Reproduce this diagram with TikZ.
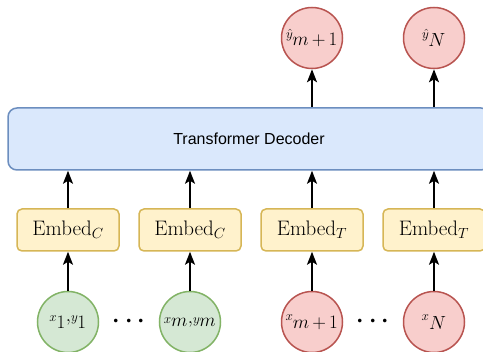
\RequirePackage{fix-cm}
\documentclass[tikz,border=0pt]{standalone}
\usepackage{fontspec}
\usetikzlibrary{arrows.meta}
\newfontfamily\arialfont{Liberation Sans}
\definecolor{bluefill}{HTML}{DAE8FC}
\definecolor{bluestroke}{HTML}{6C8EBF}
\definecolor{yellowfill}{HTML}{FFF2CC}
\definecolor{yellowstroke}{HTML}{D6B656}
\definecolor{greenfill}{HTML}{D5E8D4}
\definecolor{greenstroke}{HTML}{82B366}
\definecolor{redfill}{HTML}{F8CECC}
\definecolor{redstroke}{HTML}{B85450}
\tikzset{
  circ/.style={circle, line width=1.5pt, minimum size=61pt, inner sep=0pt, font=\fontsize{19}{21}\selectfont},
  greenc/.style={circ, draw=greenstroke, fill=greenfill},
  redc/.style={circ, draw=redstroke, fill=redfill},
  emb/.style={rectangle, rounded corners=5pt, draw=yellowstroke, fill=yellowfill, line width=1.5pt, minimum width=102pt, minimum height=42pt, inner sep=0pt, font=\fontsize{21}{23}\selectfont},
  decbox/.style={rectangle, rounded corners=9pt, draw=bluestroke, fill=bluefill, line width=1.5pt, minimum width=482pt, minimum height=62pt, inner sep=0pt, font=\arialfont\fontsize{16}{18}\selectfont},
  arr/.style={-{Stealth[length=13pt,width=10pt,inset=3pt]}, line width=1.8pt, black},
  dotsnode/.style={inner sep=0pt, font=\fontsize{34}{36}\selectfont}
}
\newcommand{\dotrow}{$\cdot$\hspace{3pt}$\cdot$\hspace{3pt}$\cdot$}
\begin{document}
\begin{tikzpicture}[x=1pt,y=-1pt]
\useasboundingbox (0,0) rectangle (483,352);
\clip (0,0) rectangle (483,352);
\node[decbox] (dec) at (249,139) {Transformer Decoder};
\node[emb] (e1) at (68,230) {Embed$_C$};
\node[emb] (e2) at (190,230) {Embed$_C$};
\node[emb] (e3) at (312,230) {Embed$_T$};
\node[emb] (e4) at (434,230) {Embed$_T$};
\node[greenc] (c1) at (68,322) {$\scriptstyle x_{\textstyle 1}\textstyle,\scriptstyle y_{\textstyle 1}$};
\node[greenc] (c2) at (190,322) {$\scriptstyle x_{\textstyle m}\textstyle,\scriptstyle y_{\textstyle m}$};
\node[redc] (c3) at (312,322) {$\scriptstyle x_{\textstyle m\mkern-1mu+\mkern-1mu1}$};
\node[redc] (c4) at (434,322) {$\scriptstyle x_{\textstyle N}$};
\node[dotsnode] (d1) at (129,322) {\dotrow};
\node[dotsnode] (d2) at (373,322) {\dotrow};
\node[redc] (y3) at (312,38) {$\scriptstyle \hat{y}_{\textstyle m\mkern-1mu+\mkern-1mu1}$};
\node[redc] (y4) at (434,38) {$\scriptstyle \hat{y}_{\textstyle N}$};
\foreach \i in {1,2,3,4} {
  \draw[arr] (c\i) -- (e\i);
  \draw[arr] (e\i) -- (e\i |- dec.south);
}
\draw[arr] (y3 |- dec.north) -- (y3);
\draw[arr] (y4 |- dec.north) -- (y4);
\end{tikzpicture}
\end{document}
